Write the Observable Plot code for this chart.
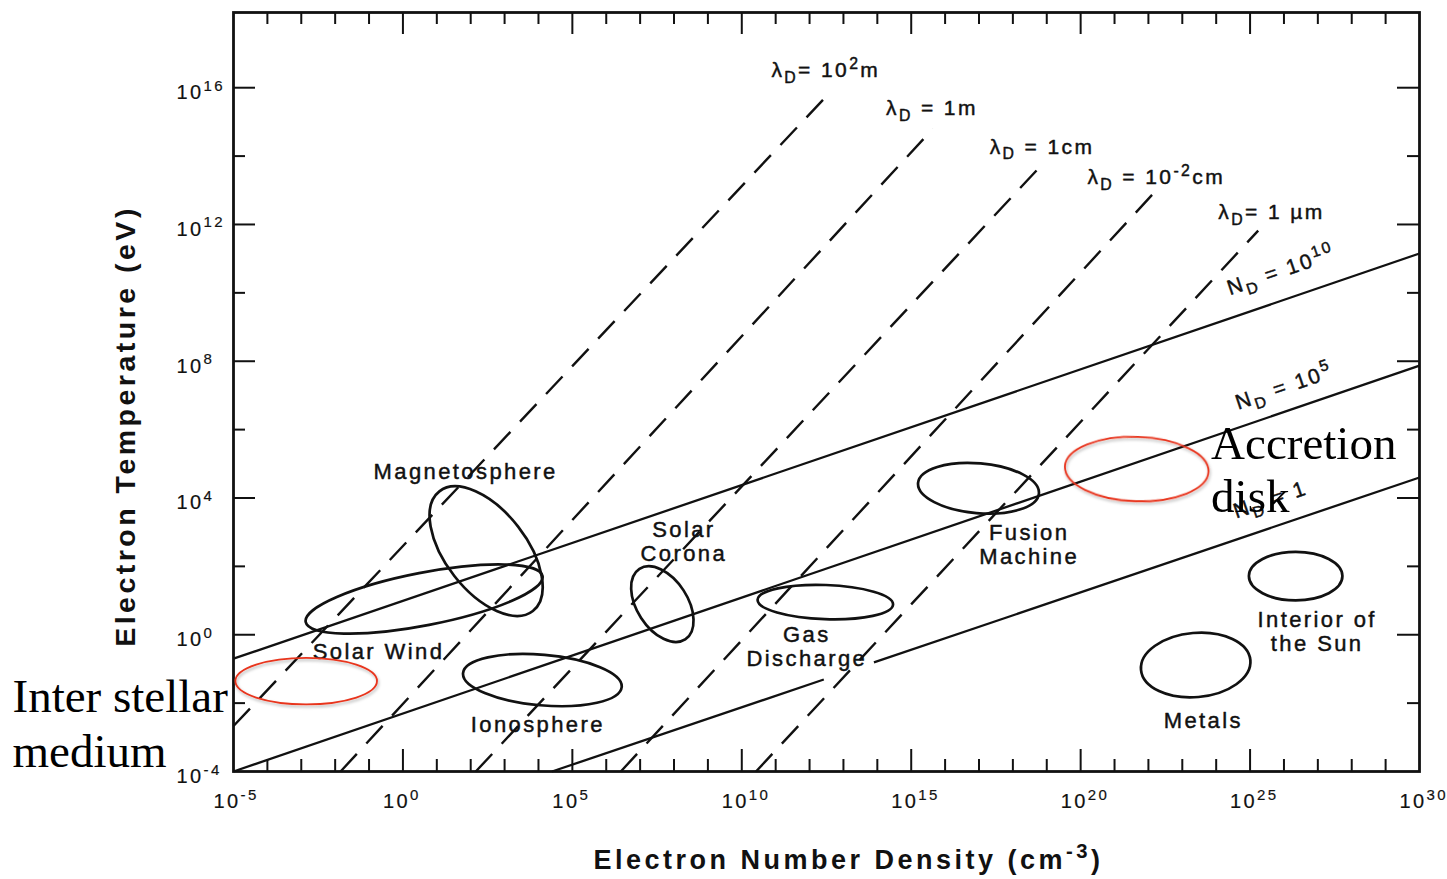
<!DOCTYPE html>
<html>
<head>
<meta charset="utf-8">
<script src="https://cdn.jsdelivr.net/npm/d3@7"></script>
<script src="https://cdn.jsdelivr.net/npm/@observablehq/plot@0.6"></script>
<style>
  html, body { margin: 0; padding: 0; background: #fff; overflow: hidden; }
  #chart svg { display: block; background: #fff; }
  #chart g[font-family="Liberation Sans"] { letter-spacing: 2.4px; }
  #chart g[font-family="Liberation Sans"][font-weight="bold"] { letter-spacing: 3.5px; }
  #chart g[font-family="Liberation Serif"] { letter-spacing: 0; }
</style>
</head>
<body>
<div id="chart"></div>
<script>
// ---------------- data ----------------
const densityTickExponents = [-5, 0, 5, 10, 15, 20, 25, 30];
const densityMinorExponents = d3.range(-4, 30).filter(e => e % 5 !== 0);
const temperatureTickExponents = [-4, 0, 4, 8, 12, 16];
const temperatureMinorExponents = [-2, 2, 6, 10, 14];

// Debye length lines (dashed)
const debyeLabels = ["λ_{D}= 10^{2}m", "λ_{D} = 1m", "λ_{D} = 1cm", "λ_{D} = 10^{-2}cm", "λ_{D}= 1 µm"];
const debyeLowDensity = [1e-5, 10 ** -1.84, 10 ** 2.15, 10 ** 6.43, 10 ** 10.42];
const debyeLowTemp = [10 ** -2.67, 1e-4, 1e-4, 1e-4, 1e-4];
const debyeHighDensity = [10 ** 12.40, 10 ** 15.64, 10 ** 18.83, 10 ** 22.14, 10 ** 25.24];
const debyeHighTemp = [10 ** 15.65, 10 ** 14.80, 10 ** 13.72, 10 ** 12.90, 10 ** 11.82];
const debyeLabelDensity = [10 ** 12.48, 10 ** 15.61, 10 ** 18.86, 10 ** 22.23, 10 ** 25.63];
const debyeLabelTemp = [10 ** 16.50, 10 ** 15.39, 10 ** 14.27, 10 ** 13.37, 10 ** 12.35];

// Plasma parameter lines (solid); N_D = 1 is interrupted by the "Gas Discharge" label
const plasmaLabels = ["N_{D} = 10^{10}", "N_{D} = 10^{5}", "N_{D} = 1"];
const plasmaLabelDensity = [10 ** 25.92, 10 ** 26.01, 10 ** 25.6];
const plasmaLabelTemp = [10 ** 10.65, 10 ** 7.25, 10 ** 3.95];
const plasmaSegDensity1 = [1e-5, 1e-5, 10 ** 4.4, 10 ** 13.9];
const plasmaSegTemp1 = [10 ** -0.70, 10 ** -4.0, 1e-4, 10 ** -0.81];
const plasmaSegDensity2 = [1e30, 1e30, 10 ** 12.42, 1e30];
const plasmaSegTemp2 = [10 ** 11.15, 10 ** 7.87, 10 ** -1.31, 10 ** 4.60];

// Plasma regions (ellipses)
const regionLabels = ["Magnetosphere", "Solar Wind", "Solar\nCorona", "Ionosphere", "Gas\nDischarge", "Fusion\nMachine", "Interior of\nthe Sun", "Metals"];
const regionDensity = [10 ** 2.47, 10 ** 0.64, 10 ** 7.67, 10 ** 4.13, 10 ** 12.48, 10 ** 17.0, 10 ** 26.36, 10 ** 23.41];
const regionTemp = [10 ** 2.43, 10 ** 1.03, 10 ** 0.88, 10 ** -1.34, 10 ** 0.94, 10 ** 4.27, 10 ** 1.70, 10 ** -0.90];
const regionHalfWidthDecades = [2.24, 3.56, 1.24, 2.35, 2.0, 1.79, 1.38, 1.62];
const regionHalfHeightDecades = [1.18, 0.77, 0.74, 0.74, 0.5, 0.73, 0.71, 0.94];
const regionTiltDeg = [52, -11, 57, 5, 2, 5, 0, -5];
const regionLabelDensity = [10 ** 1.85, 10 ** -0.72, 10 ** 8.29, 10 ** 3.98, 10 ** 11.92, 10 ** 18.48, 10 ** 26.98, 10 ** 23.62];
const regionLabelTemp = [10 ** 4.77, 10 ** -0.49, 10 ** 2.73, 10 ** -2.63, 10 ** -0.35, 10 ** 2.64, 10 ** 0.09, 10 ** -2.51];

// Added highlights (red)
const highlightNames = ["Inter stellar\nmedium", "Accretion\ndisk"];
const highlightDensity = [10 ** -2.84, 10 ** 21.67];
const highlightTemp = [10 ** -1.37, 10 ** 4.83];
const highlightHalfWidthDecades = [2.09, 2.12];
const highlightHalfHeightDecades = [0.68, 0.94];
const highlightTiltDeg = [0, 2];
const accretionLabelDensity = 10 ** 23.85;
const accretionLabelTemp = 10 ** 4.87;

// ---------------- layout ----------------
const W = 1447, H = 879;
const mL = 233, mR = 28, mT = 12, mB = 108;
const innerW = W - mL - mR, innerH = H - mT - mB;

const regions = regionLabels.map((_, i) => ({n: regionDensity[i], T: regionTemp[i], a: regionHalfWidthDecades[i], b: regionHalfHeightDecades[i], tilt: regionTiltDeg[i]}));
const highlights = highlightNames.map((_, i) => ({n: highlightDensity[i], T: highlightTemp[i], a: highlightHalfWidthDecades[i], b: highlightHalfHeightDecades[i], tilt: highlightTiltDeg[i]}));

function ellipseMark(rows, stroke, strokeWidth, shadow) {
  return function (...args) {
    const scales = args.find(a => a && typeof a.x === "function" && typeof a.y === "function");
    const g = d3.create("svg:g").attr("fill", "none").attr("stroke", stroke).attr("stroke-width", strokeWidth);
    if (shadow) {
      const f = g.append("defs").append("filter").attr("id", "redshadow").attr("x", "-20%").attr("y", "-20%").attr("width", "140%").attr("height", "160%");
      f.append("feDropShadow").attr("dx", 1).attr("dy", 2).attr("stdDeviation", 1.5).attr("flood-color", "#000").attr("flood-opacity", 0.3);
      g.attr("filter", "url(#redshadow)");
    }
    for (const r of rows) {
      const cx = scales.x(r.n), cy = scales.y(r.T);
      const rx = Math.abs(scales.x(r.n * 10 ** r.a) - cx);
      const ry = Math.abs(scales.y(r.T * 10 ** r.b) - cy);
      g.append("ellipse").attr("cx", cx).attr("cy", cy).attr("rx", rx).attr("ry", ry)
        .attr("transform", `rotate(${r.tilt},${cx},${cy})`);
    }
    return g.node();
  };
}

const sans = "Liberation Sans";
const serif = "Liberation Serif";
const ink = "#111";
const debyeIdx = d3.range(debyeLabels.length);
const plasmaSegIdx = d3.range(plasmaSegDensity1.length);
const plasmaIdx = d3.range(plasmaLabels.length);
const regionIdx = d3.range(regionLabels.length);
const textInk = {fill: ink, stroke: ink, strokeWidth: 0.45, fontFamily: sans};

const chart = Plot.plot({
  width: W, height: H,
  marginLeft: mL, marginRight: mR, marginTop: mT, marginBottom: mB,
  x: {type: "log", domain: [1e-5, 1e30], axis: null},
  y: {type: "log", domain: [1e-4, 10 ** 18.2], axis: null},
  marks: [
    // ticks (inward) on all four sides
    Plot.ruleX(densityTickExponents.slice(1, -1), {x: e => 10 ** e, insetTop: innerH - 22, stroke: ink, strokeWidth: 2}),
    Plot.ruleX(densityMinorExponents, {x: e => 10 ** e, insetTop: innerH - 12, stroke: ink, strokeWidth: 2}),
    Plot.ruleX(densityTickExponents.slice(1, -1), {x: e => 10 ** e, insetBottom: innerH - 22, stroke: ink, strokeWidth: 2}),
    Plot.ruleX(densityMinorExponents, {x: e => 10 ** e, insetBottom: innerH - 12, stroke: ink, strokeWidth: 2}),
    Plot.ruleY(temperatureTickExponents.slice(1), {y: e => 10 ** e, insetRight: innerW - 22, stroke: ink, strokeWidth: 2}),
    Plot.ruleY(temperatureMinorExponents, {y: e => 10 ** e, insetRight: innerW - 12, stroke: ink, strokeWidth: 2}),
    Plot.ruleY(temperatureTickExponents.slice(1), {y: e => 10 ** e, insetLeft: innerW - 22, stroke: ink, strokeWidth: 2}),
    Plot.ruleY(temperatureMinorExponents, {y: e => 10 ** e, insetLeft: innerW - 12, stroke: ink, strokeWidth: 2}),
    Plot.frame({stroke: ink, strokeWidth: 2.8}),

    // tick labels
    Plot.text(densityTickExponents, {x: e => 10 ** e, text: e => `10^{${e}}`, frameAnchor: "bottom", lineAnchor: "middle", dy: 30, dx: -20, textAnchor: "start", fontSize: 20, ...textInk, strokeWidth: 0.2}),
    Plot.text(temperatureTickExponents, {y: e => 10 ** e, text: e => `10^{${e}}`, frameAnchor: "left", lineAnchor: "middle", dy: 5, dx: -57, textAnchor: "start", fontSize: 20, ...textInk, strokeWidth: 0.2}),

    // axis titles
    Plot.text(["Electron Number Density (cm^{-3})"], {frameAnchor: "bottom", lineAnchor: "middle", textAnchor: "middle", dx: 22, dy: 89, fontSize: 27, fontWeight: "bold", fontFamily: sans, fill: ink}),
    Plot.text(["Electron Temperature (eV)"], {frameAnchor: "left", lineAnchor: "middle", textAnchor: "middle", dx: -108, dy: 34, rotate: -90, fontSize: 28.5, fontWeight: "bold", fontFamily: sans, fill: ink}),

    // plasma parameter lines
    Plot.link(plasmaSegIdx, {x1: i => plasmaSegDensity1[i], y1: i => plasmaSegTemp1[i], x2: i => plasmaSegDensity2[i], y2: i => plasmaSegTemp2[i], stroke: ink, strokeWidth: 2.3}),
    // Debye length lines
    Plot.link(debyeIdx, {x1: i => debyeLowDensity[i], y1: i => debyeLowTemp[i], x2: i => debyeHighDensity[i], y2: i => debyeHighTemp[i], stroke: ink, strokeWidth: 2.4, strokeDasharray: "24,14"}),

    // regions
    ellipseMark(regions, ink, 2.7, false),

    // labels
    Plot.text(debyeIdx, {x: i => debyeLabelDensity[i], y: i => debyeLabelTemp[i], text: i => debyeLabels[i], fontSize: 21, ...textInk}),
    Plot.text(plasmaIdx, {x: i => plasmaLabelDensity[i], y: i => plasmaLabelTemp[i], text: i => plasmaLabels[i], rotate: -18.8, fontSize: 21, ...textInk}),
    Plot.text(regionIdx, {x: i => regionLabelDensity[i], y: i => regionLabelTemp[i], text: i => regionLabels[i], fontSize: 22, lineHeight: 1.08, ...textInk}),

    // highlights
    ellipseMark(highlights, "#e8341d", 1.8, true),
    Plot.text([highlightNames[1]], {x: accretionLabelDensity, y: accretionLabelTemp, textAnchor: "start", lineAnchor: "middle", fontSize: 47, lineHeight: 1.13, fontFamily: serif, fill: "#000"}),
    Plot.text([highlightNames[0]], {frameAnchor: "bottom-left", lineAnchor: "middle", dx: -221, dy: -50, textAnchor: "start", fontSize: 47, lineHeight: 1.18, fontFamily: serif, fill: "#000"})
  ]
});

document.getElementById("chart").appendChild(chart);

// turn ^{..} and _{..} markup into superscript / subscript tspans
function richify(svg) {
  svg.querySelectorAll("text").forEach(el => {
    if (el.querySelector("tspan")) return;
    const s = el.textContent;
    if (!/[_^]\{/.test(s)) return;
    const fs = parseFloat(getComputedStyle(el).fontSize) || 16;
    const parts = [];
    const re = /([_^])\{([^}]*)\}/g;
    let last = 0, m;
    while ((m = re.exec(s))) {
      if (m.index > last) parts.push({t: s.slice(last, m.index), k: ""});
      parts.push({t: m[2], k: m[1]});
      last = re.lastIndex;
    }
    if (last < s.length) parts.push({t: s.slice(last), k: ""});
    el.textContent = "";
    let cur = 0;
    for (const p of parts) {
      const target = p.k === "^" ? -0.42 * fs : p.k === "_" ? 0.28 * fs : 0;
      const ts = document.createElementNS("http://www.w3.org/2000/svg", "tspan");
      if (target !== cur) ts.setAttribute("dy", (target - cur).toFixed(2));
      if (p.k) ts.setAttribute("font-size", (0.75 * fs).toFixed(1));
      ts.textContent = p.t;
      el.appendChild(ts);
      cur = target;
    }
  });
}
richify(chart);
</script>
</body>
</html>
